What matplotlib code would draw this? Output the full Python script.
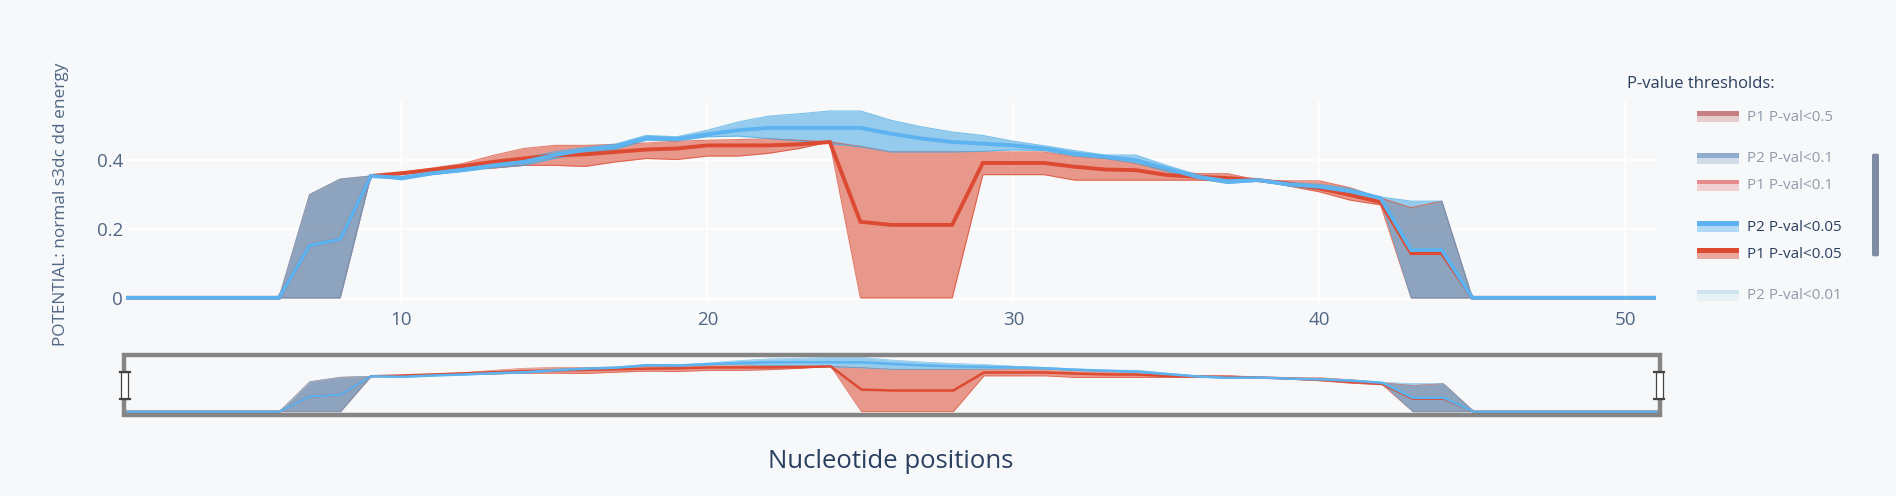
import matplotlib.pyplot as plt
from matplotlib.patches import Rectangle, FancyBboxPatch

plt.rcParams["font.family"] = ["Open Sans", "DejaVu Sans"]

W, H = 1896, 496
BG = "#f7f8f9"
TXT = "#2a3f5f"
TICK = "#506784"

positions = list(range(1, 52))

p1_mean = [0, 0, 0, 0, 0, 0, 0.152, 0.170,
           0.354, 0.362, 0.372, 0.383, 0.395, 0.405, 0.414, 0.417, 0.424, 0.431,
           0.434, 0.443, 0.443, 0.443, 0.446, 0.453, 0.221, 0.212, 0.212, 0.212,
           0.392, 0.392, 0.392, 0.381, 0.373, 0.371, 0.357, 0.352, 0.348, 0.342,
           0.332, 0.318, 0.299, 0.278, 0.130, 0.130,
           0, 0, 0, 0, 0, 0, 0]
p1_upper = [0, 0, 0, 0, 0, 0, 0.300, 0.345,
            0.354, 0.365, 0.377, 0.390, 0.414, 0.434, 0.443, 0.443, 0.446, 0.450,
            0.455, 0.458, 0.460, 0.462, 0.458, 0.453, 0.440, 0.424, 0.424, 0.424,
            0.424, 0.424, 0.424, 0.410, 0.405, 0.390, 0.370, 0.361, 0.361, 0.342,
            0.340, 0.340, 0.320, 0.290, 0.262, 0.281,
            0, 0, 0, 0, 0, 0, 0]
p1_lower = [0, 0, 0, 0, 0, 0, 0, 0,
            0.354, 0.358, 0.368, 0.377, 0.377, 0.385, 0.385, 0.382, 0.395, 0.405,
            0.402, 0.412, 0.412, 0.420, 0.434, 0.453, 0, 0, 0, 0,
            0.358, 0.358, 0.358, 0.342, 0.342, 0.342, 0.342, 0.342, 0.339, 0.342,
            0.325, 0.308, 0.284, 0.270, 0, 0,
            0, 0, 0, 0, 0, 0, 0]

p2_mean = [0, 0, 0, 0, 0, 0, 0.152, 0.170,
           0.354, 0.349, 0.362, 0.372, 0.385, 0.395, 0.415, 0.430, 0.440, 0.465,
           0.462, 0.475, 0.487, 0.494, 0.494, 0.494, 0.494, 0.477, 0.463, 0.453,
           0.448, 0.443, 0.434, 0.419, 0.410, 0.400, 0.376, 0.352, 0.339, 0.342,
           0.330, 0.323, 0.310, 0.290, 0.139, 0.139,
           0, 0, 0, 0, 0, 0, 0]
p2_upper = [0, 0, 0, 0, 0, 0, 0.300, 0.345,
            0.354, 0.352, 0.365, 0.377, 0.392, 0.405, 0.425, 0.437, 0.447, 0.472,
            0.468, 0.487, 0.511, 0.528, 0.535, 0.543, 0.543, 0.516, 0.497, 0.482,
            0.472, 0.455, 0.442, 0.428, 0.415, 0.415, 0.385, 0.358, 0.345, 0.345,
            0.335, 0.330, 0.318, 0.293, 0.281, 0.281,
            0, 0, 0, 0, 0, 0, 0]
p2_lower = [0, 0, 0, 0, 0, 0, 0, 0,
            0.354, 0.343, 0.358, 0.367, 0.378, 0.385, 0.405, 0.420, 0.432, 0.458,
            0.456, 0.468, 0.470, 0.463, 0.456, 0.448, 0.439, 0.424, 0.424, 0.424,
            0.426, 0.430, 0.428, 0.412, 0.405, 0.392, 0.368, 0.347, 0.332, 0.339,
            0.325, 0.315, 0.302, 0.288, 0, 0,
            0, 0, 0, 0, 0, 0, 0]

x_ticks = [10, 20, 30, 40, 50]
y_ticks = [0, 0.2, 0.4]
y_tick_labels = ["0", "0.2", "0.4"]

legend_labels = ["P1 P-val<0.5", "P2 P-val<0.1", "P1 P-val<0.1",
                 "P2 P-val<0.05", "P1 P-val<0.05", "P2 P-val<0.01"]
legend_colors = ["#a83636", "#4f7db5", "#e04848", "#5cb3ef", "#dc4a32", "#b5dbee"]
legend_groups = [0, 1, 1, 2, 2, 3]
legend_visible = [False, False, False, True, True, False]

RED = "#dc4a32"
BLUE = "#5cb3ef"

# series drawn in the chart: (mean, upper, lower, line colour, fill colour, fill alpha)
series = [
    (p1_mean, p1_upper, p1_lower, RED, RED, 0.55),
    (p2_mean, p2_upper, p2_lower, BLUE, "#4bace4", 0.57),
]

XLIM = (1, 51)
YLIM = (-0.015, 0.572)


def fx(px):
    return px / W


def fy(py):
    return 1 - py / H


def draw_series(ax, lw_mean, lw_edge):
    for mean, upper, lower, lc, fc, fa in series:
        ax.fill_between(positions, lower, upper, color=fc, alpha=fa,
                        linewidth=0, zorder=2)
        ax.plot(positions, upper, color=fc, lw=lw_edge, alpha=0.7, zorder=3)
        ax.plot(positions, lower, color=fc, lw=lw_edge, alpha=0.7, zorder=3)
        ax.plot(positions, mean, color=lc, lw=lw_mean, zorder=4,
                solid_joinstyle="miter")


fig = plt.figure(figsize=(W / 100, H / 100), dpi=100, facecolor=BG)

# main plot
ax = fig.add_axes([fx(126), fy(303), fx(1530), 202 / H])
ax.set_facecolor(BG)
for s in ax.spines.values():
    s.set_visible(False)
ax.set_xlim(*XLIM)
ax.set_ylim(*YLIM)
ax.set_xticks(x_ticks)
ax.set_yticks(y_ticks)
ax.set_yticklabels(y_tick_labels)
ax.tick_params(length=0, labelsize=13.5, labelcolor=TICK)
ax.tick_params(axis="x", pad=6)
ax.tick_params(axis="y", pad=2)
ax.grid(True, color="white", lw=1.4, zorder=0)
ax.set_axisbelow(True)
ax.axhline(0, color="white", lw=2, zorder=1)
draw_series(ax, 2.8, 0.8)

fig.text(fx(61), fy(204), "POTENTIAL: normal s3dc dd energy", fontsize=12.4,
         color=TICK, rotation=90, ha="center", va="center")

fig.text(fx(891), fy(461), "Nucleotide positions", fontsize=18.5, color=TXT,
         ha="center", va="center")

# range slider
sl = fig.add_axes([fx(126), fy(413.2), fx(1532), 58.7 / H])
sl.set_facecolor(BG)
sl.set_xlim(*XLIM)
sl.set_ylim(*YLIM)
sl.set_xticks([])
sl.set_yticks([])
for s in sl.spines.values():
    s.set_visible(False)
draw_series(sl, 1.8, 0.5)

fig.patches.append(Rectangle((fx(124), fy(415)), fx(1536), 60 / H,
                             transform=fig.transFigure, fill=False,
                             edgecolor="#858585", lw=3.2, zorder=10))
for hx in (125, 1659):
    fig.patches.append(Rectangle((fx(hx - 3.5), fy(399)), fx(7), 27 / H,
                                 transform=fig.transFigure, facecolor="white",
                                 edgecolor="#444444", lw=0.9, zorder=11))
    for hy in (372, 399):
        fig.add_artist(plt.Line2D([fx(hx - 5), fx(hx + 5)], [fy(hy), fy(hy)],
                                  transform=fig.transFigure, color="#444444",
                                  lw=1.6, zorder=12))

# legend
fig.text(fx(1627), fy(84), "P-value thresholds:", fontsize=12, color=TXT,
         ha="left", va="center")
for i, (lab, col, grp, vis) in enumerate(zip(legend_labels, legend_colors,
                                             legend_groups, legend_visible)):
    yc = 117.3 + 26.7 * i + 15 * grp
    a = 1.0 if vis else 0.5
    fig.patches.append(Rectangle((fx(1697), fy(yc + 5)), fx(42), 11 / H,
                                 transform=fig.transFigure, facecolor=col,
                                 alpha=0.45 * a, lw=0, zorder=5))
    fig.patches.append(Rectangle((fx(1697), fy(yc - 1.5)), fx(42), 4.5 / H,
                                 transform=fig.transFigure, facecolor=col,
                                 alpha=a, lw=0, zorder=6))
    fig.text(fx(1747), fy(yc), lab, fontsize=11, color=TXT, alpha=a,
             ha="left", va="center")

# legend scrollbar
fig.patches.append(FancyBboxPatch((fx(1872), fy(257)), fx(7), 104 / H,
                                  boxstyle="round,pad=0,rounding_size=0.004",
                                  transform=fig.transFigure, facecolor="#808ba4",
                                  lw=0, zorder=5))

fig.savefig("out.png", dpi=100, facecolor=BG)
